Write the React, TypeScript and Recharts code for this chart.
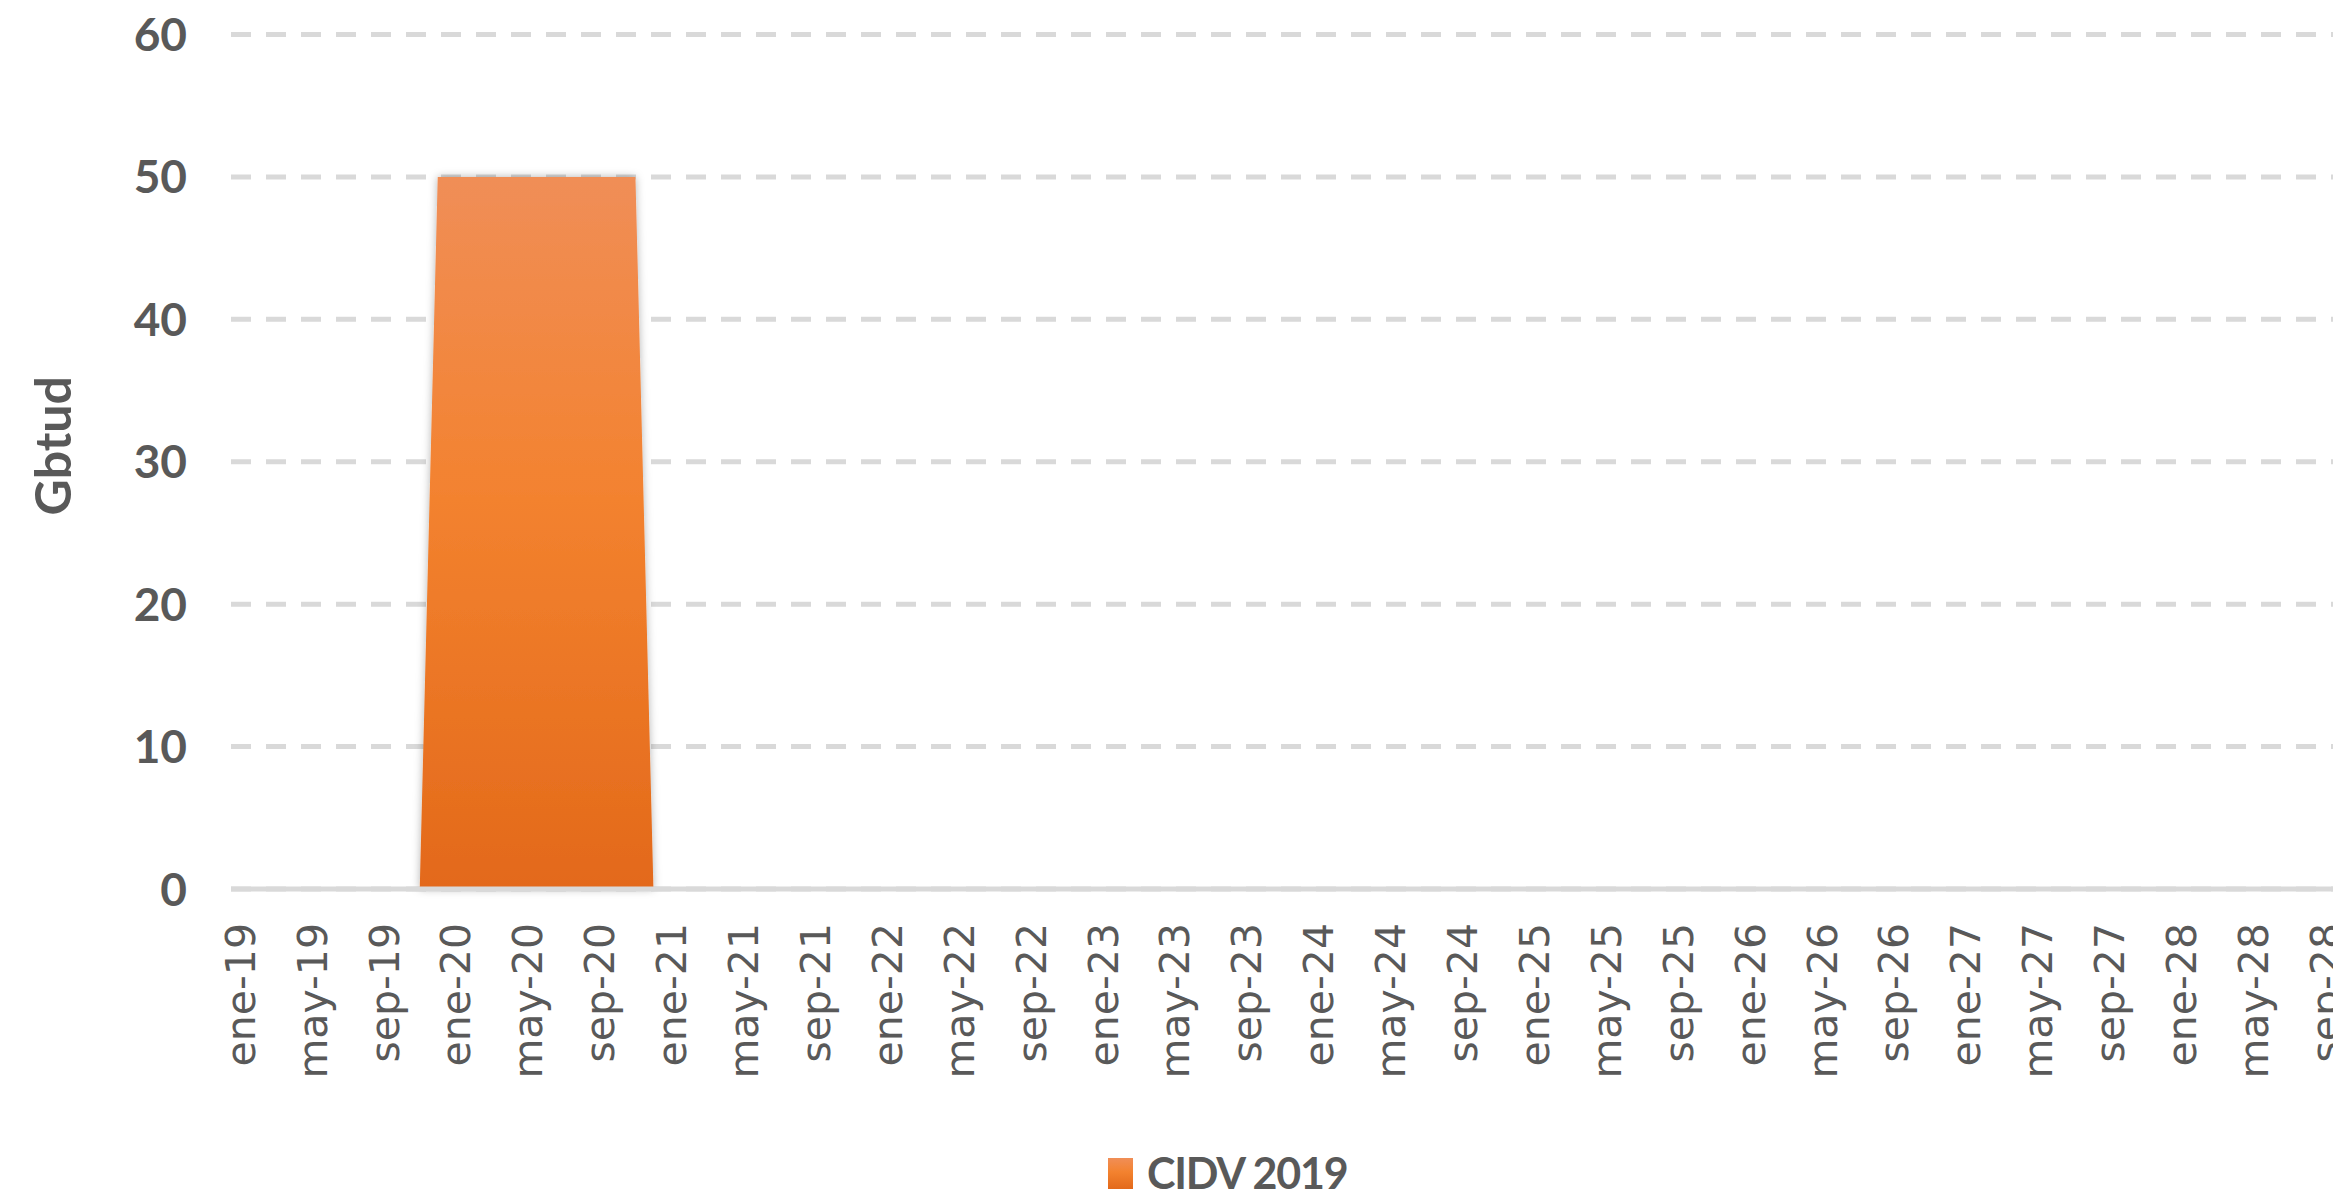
import React from 'react';
import { Area, AreaChart, CartesianGrid, Legend, XAxis, YAxis } from 'recharts';

const monthNames = ['ene', 'feb', 'mar', 'abr', 'may', 'jun', 'jul', 'ago', 'sep', 'oct', 'nov', 'dic'];
const years = ['19', '20', '21', '22', '23', '24', '25', '26', '27', '28'];
const yTicks = [0, 10, 20, 30, 40, 50, 60];

// CIDV 2019, Gbtud por mes (ene-19 .. dic-28)
const cidv2019 = [
  0, 0, 0, 0, 0, 0, 0, 0, 0, 0, 0, 50, // 2019
  50, 50, 50, 50, 50, 50, 50, 50, 50, 50, 50, 0, // 2020
  0, 0, 0, 0, 0, 0, 0, 0, 0, 0, 0, 0, // 2021
  0, 0, 0, 0, 0, 0, 0, 0, 0, 0, 0, 0, // 2022
  0, 0, 0, 0, 0, 0, 0, 0, 0, 0, 0, 0, // 2023
  0, 0, 0, 0, 0, 0, 0, 0, 0, 0, 0, 0, // 2024
  0, 0, 0, 0, 0, 0, 0, 0, 0, 0, 0, 0, // 2025
  0, 0, 0, 0, 0, 0, 0, 0, 0, 0, 0, 0, // 2026
  0, 0, 0, 0, 0, 0, 0, 0, 0, 0, 0, 0, // 2027
  0, 0, 0, 0, 0, 0, 0, 0, 0, 0, 0, 0, // 2028
];

const months = years.flatMap(y => monthNames.map(m => `${m}-${y}`));
const data = months.map((month, i) => ({ month, cidv: cidv2019[i] }));

const grey = '#595959';

const XTick = ({ x, y, payload }: any) => (
  <text
    transform={`translate(${x},${y}) rotate(-90)`}
    textAnchor="end"
    dy="0.36em"
    fill={grey}
    fontFamily="'DejaVu Sans', sans-serif"
    fontSize={41}
  >
    {payload.value}
  </text>
);

const YTick = ({ x, y, payload }: any) => (
  <text x={x} y={y} dy="0.36em" textAnchor="end" fill={grey} fontFamily="Lato, sans-serif" fontWeight={700} fontSize={46}>
    {payload.value}
  </text>
);

const YLabel = ({ viewBox }: any) => {
  const cx = 44.5;
  const cy = viewBox.y + viewBox.height / 2 - 16;
  return (
    <text
      transform={`translate(${cx},${cy}) rotate(-90)`}
      textAnchor="middle"
      dy="0.36em"
      fill={grey}
      fontFamily="Lato, sans-serif"
      fontWeight={700}
      fontSize={50}
    >
      Gbtud
    </text>
  );
};

const LegendContent = () => (
  <div style={{ display: 'flex', alignItems: 'flex-start', fontFamily: 'Lato, sans-serif' }}>
    <div
      style={{
        width: 25,
        height: 31,
        marginTop: 7,
        marginRight: 14,
        background: 'linear-gradient(#f08e57, #f3822f 45%, #e3691a)',
      }}
    />
    <span style={{ fontSize: 43, lineHeight: 1, fontWeight: 700, color: grey, letterSpacing: -1.2 }}>CIDV 2019</span>
  </div>
);

export default function App() {
  return (
    <div style={{ width: 2333, height: 1189, overflow: 'hidden', marginBottom: -8 }}>
      <AreaChart width={2380} height={1189} data={data} margin={{ top: 26.5, right: 0, left: 0, bottom: 0 }}>
        <defs>
          <linearGradient id="cidvFill" x1="0" y1="0" x2="0" y2="1">
            <stop offset="0%" stopColor="#f08e57" />
            <stop offset="45%" stopColor="#f3822f" />
            <stop offset="100%" stopColor="#e3691a" />
          </linearGradient>
          <filter id="areaShadow" x="-20%" y="-10%" width="140%" height="120%">
            <feDropShadow dx="0" dy="0" stdDeviation="4" floodColor="#000" floodOpacity="0.3" />
          </filter>
        </defs>
        <CartesianGrid vertical={false} stroke="#d9d9d9" strokeWidth={5} strokeDasharray="20 15" />
        <XAxis
          dataKey="month"
          interval={3}
          padding={{ left: 9, right: 9 }}
          height={308}
          tickLine={false}
          tickSize={0}
          tickMargin={34}
          axisLine={{ stroke: '#d9d9d9', strokeWidth: 5 }}
          tick={<XTick />}
        />
        <YAxis
          width={223}
          domain={[0, 60]}
          ticks={yTicks}
          axisLine={false}
          tickLine={false}
          tickSize={0}
          tickMargin={44}
          tick={<YTick />}
          label={<YLabel />}
        />
        <Legend
          verticalAlign="middle"
          layout="horizontal"
          align="center"
          wrapperStyle={{ left: 1100, top: 1143, width: 320, height: 42 }}
          content={<LegendContent />}
        />
        <Area
          type="linear"
          dataKey="cidv"
          name="CIDV 2019"
          stroke="none"
          fill="url(#cidvFill)"
          fillOpacity={1}
          filter="url(#areaShadow)"
          dot={false}
          activeDot={false}
          isAnimationActive={false}
        />
      </AreaChart>
    </div>
  );
}
